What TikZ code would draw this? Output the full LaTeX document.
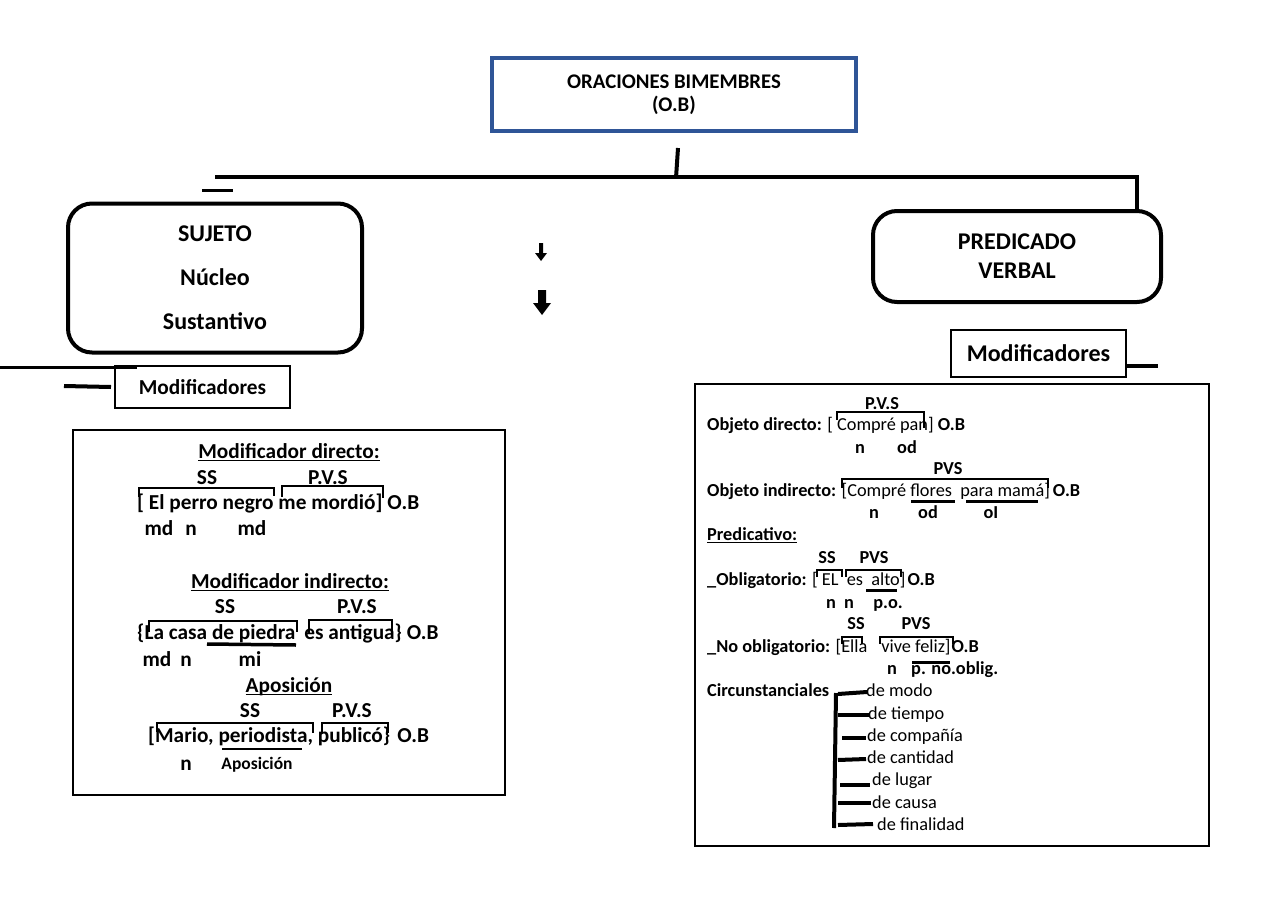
\documentclass[tikz,border=0pt]{standalone}
\usepackage{fontspec}
\setmainfont{Carlito}
\definecolor{obblue}{RGB}{47,85,151}
\begin{document}
\begin{tikzpicture}[x=1pt,y=-1pt,
  fA/.style={font=\fontsize{24}{29}\selectfont\bfseries},
  fB/.style={font=\fontsize{21.3}{26}\selectfont\bfseries},
  fC/.style={font=\fontsize{18.3}{22}\selectfont\bfseries},
  fR/.style={font=\fontsize{18.3}{22}\selectfont},
  tc/.style={inner sep=0pt, anchor=base},
  tw/.style={inner sep=0pt, anchor=base west},
  thk/.style={line width=4pt},
  mid/.style={line width=3pt},
  brk/.style={line width=2.4pt},
  ul/.style={line width=1.4pt},
  ulb/.style={line width=3.5pt},
  roundbox/.style={draw, line width=4pt, rounded corners=24pt, align=center},
  plainbox/.style={draw, line width=2pt, inner sep=0pt},
]
\useasboundingbox (0,0) rectangle (1280,905);

% ---------- top box ----------
\node[draw=obblue, line width=3.5pt, minimum width=364pt, minimum height=73pt,
      align=center, font=\fontsize{20.8}{23}\selectfont\bfseries] (ob) at (674,94.5)
      {ORACIONES BIMEMBRES\\(O.B)};

\coordinate (vt) at (678,148);
\coordinate (vb) at (676,178);
\draw[thk] (vt) -- (vb);
\coordinate (hl) at (215,177);
\coordinate (hr) at (1137,177);

% ---------- main boxes ----------
\node[roundbox, minimum width=294pt, minimum height=149pt,
      font=\fontsize{24}{44}\selectfont\bfseries] (suj) at (215,278)
      {SUJETO\\Núcleo\\Sustantivo};
\node[roundbox, minimum width=288pt, minimum height=91pt,
      font=\fontsize{24}{29}\selectfont\bfseries] (pred) at (1017,256.5)
      {PREDICADO\\VERBAL};
\draw[thk] (hl) -- (hr) -- (hr |- pred.north);

\coordinate (s1) at (202,190); \coordinate (s2) at (233,190);
\draw[mid] (s1) -- (s2);

% arrows
\fill (539,243) -- (543,243) -- (543,253) -- (547,253) -- (541,261) -- (535,253) -- (539,253) -- cycle;
\fill (538,290) -- (546,290) -- (546,303) -- (551,303) -- (542,315) -- (533,303) -- (538,303) -- cycle;

% modificadores boxes
\node[plainbox, minimum width=175pt, minimum height=47pt, fA] (modr) at (1038.5,353.5) {Modificadores};
\coordinate (mr2) at (1158,366);
\draw[thk] (modr.east |- mr2) -- (mr2);

\node[plainbox, minimum width=175pt, minimum height=42pt, fB] (modl) at (202.5,387) {Modificadores};
\coordinate (ml0) at (0,367); \coordinate (ml1) at (137,367);
\draw[mid] (ml0) -- (ml1);
\coordinate (ml2) at (64,386); \coordinate (ml3) at (111,387);
\draw[thk] (ml2) -- (ml3);

% ---------- left content box ----------
\node[plainbox, minimum width=432pt, minimum height=365pt] (lbox) at (289,612.5) {};

\node[tc, fB] (h1) at (289,458) {Modificador directo:};
\draw[ul] ([yshift=-2.5pt]h1.base west) -- ([yshift=-2.5pt]h1.base east);
\node[tc, fB] at (207,484) {SS};
\node[tc, fB] at (328,484) {P.V.S};
\node[tw, fB] (e1) at (137,509) {[ El perro negro me mordió]\hspace{5pt}O.B};
\draw[brk] (139,497) -- (139,488) -- (274,488) -- (274,496);
\draw[brk] (282,497) -- (282,486) -- (383,486) -- (383,498);
\node[tc, fB] at (159,535) {md};
\node[tc, fB] at (191,535) {n};
\node[tc, fB] at (252,535) {md};

\node[tc, fB] (h2) at (290,588) {Modificador indirecto:};
\draw[ul] ([yshift=-2.5pt]h2.base west) -- ([yshift=-2.5pt]h2.base east);
\node[tc, fB] at (225,613) {SS};
\node[tc, fB] at (357,613) {P.V.S};
\node[tw, fB] (e2) at (137,639) {\{La casa de piedra\hspace{9pt}es antigua\}\ O.B};
\draw[brk] (149,632) -- (149,621) -- (297,621) -- (297,632);
\draw[brk] (309,633) -- (309,620) -- (392,620) -- (392,633);
\draw[ulb] (207,644) -- (296,645);
\node[tc, fB] at (157,666) {md};
\node[tc, fB] at (186,666) {n};
\node[tc, fB] at (250,666) {mi};

\node[tc, fB] (h3) at (289,692) {Aposición};
\draw[ul] ([yshift=-2.5pt]h3.base west) -- ([yshift=-2.5pt]h3.base east);
\node[tc, fB] at (250,717) {SS};
\node[tc, fB] at (352,717) {P.V.S};
\node[tw, fB] (e3) at (148,742) {[Mario, periodista, publicó\}\hspace{7pt}O.B};
\draw[brk] (157,732) -- (157,723) -- (313,723) -- (313,733);
\draw[brk] (322,734) -- (322,723) -- (388,723) -- (388,733);
\draw[ul, line width=2pt] (222,749) -- (302,749);
\node[tc, fB] at (186,770) {n};
\node[tc, font=\fontsize{17.5}{20}\selectfont\bfseries] at (257,769) {Aposición};

% ---------- right content box ----------
\node[plainbox, minimum width=514pt, minimum height=462pt] (rbox) at (952,615) {};

\node[tc, fC] at (882,409) {P.V.S};
\node[tw, fR] (r1) at (707,430) {\textbf{Objeto directo:} [ Compré pan] \textbf{O.B}};
\draw[brk] (837,420) -- (837,412) -- (924,412) -- (924,428);
\node[tc, fC] at (860,453) {n};
\node[tc, fC] at (907,453) {od};

\node[tc, fC] at (948,474) {PVS};
\node[tw, fR] (r2) at (707,496) {\textbf{Objeto indirecto:} [Compré flores\ \ para mamá]\hspace{3pt}\textbf{O.B}};
\draw[brk] (842,488) -- (842,479) -- (1048,479) -- (1048,488);
\draw[mid] (911,501) -- (955,501);
\draw[mid] (966,501) -- (1038,501);
\node[tc, fC] at (874,518) {n};
\node[tc, fC] at (928,518) {od};
\node[tc, fC] at (991,518) {oI};

\node[tw, fC] (h4) at (707,540) {Predicativo:};
\draw[ul] ([yshift=-2.5pt]h4.base west) -- ([yshift=-2.5pt]h4.base east);
\node[tc, fC] at (827,563) {SS};
\node[tc, fC] at (874,563) {PVS};
\node[tw, fR] (r3) at (707,585) {\textbf{\_Obligatorio:} [ EL\ \ es\ \ alto]\hspace{2pt}\textbf{O.B}};
\draw[brk] (817,577) -- (817,570) -- (842,570) -- (842,577);
\draw[brk] (846,577) -- (846,570) -- (901,570) -- (901,577);
\draw[mid] (866,590) -- (897,590);
\node[tc, fC] at (831,608) {n};
\node[tc, fC] at (849,608) {n};
\node[tc, fC] at (888,608) {p.o.};

\node[tc, fC] at (856,629) {SS};
\node[tc, fC] at (916,629) {PVS};
\node[tw, fR] (r4) at (707,652) {\textbf{\_No obligatorio:} [Ella\hspace{14pt}vive feliz]\hspace{1pt}\textbf{O.B}};
\draw[brk] (842,644) -- (842,637) -- (862,637) -- (862,644);
\draw[brk] (880,644) -- (880,637) -- (953,637) -- (953,644);
\draw[mid] (912,662) -- (950,662);
\node[tc, fC] at (892,674) {n};
\node[tw, fC] at (911,674) {p. no.oblig.};

\node[tw, fC] (circ) at (707,696) {Circunstanciales};
\coordinate (ct) at (836,693);
\coordinate (cb) at (834,828);
\draw[thk] (ct) -- (cb);
\foreach \xa/\ya/\xb/\yb/\xt/\yt/\t in {
  838/694/867/692/866/696/de modo,
  838/715/869/715/868/719/de tiempo,
  842/738/866/738/867/741/de compañía,
  838/760/866/759/867/763/de cantidad,
  840/785/870/785/872/785/de lugar,
  838/803/871/803/872/808/de causa,
  838/825/873/824/877/830/de finalidad}{
  \draw[thk] (\xa,\ya) -- (\xb,\yb);
  \node[tw, fR] at (\xt,\yt) {\t};
}
\end{tikzpicture}
\end{document}
